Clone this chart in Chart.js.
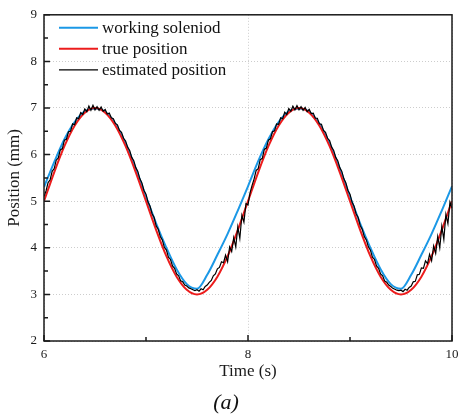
<!DOCTYPE html>
<html>
<head>
<meta charset="utf-8">
<script src="https://cdn.jsdelivr.net/npm/chart.js@4.4.1/dist/chart.umd.min.js"></script>
<style>
  html, body { margin: 0; padding: 0; background: #fff; }
  #wrap { width: 459px; height: 414px; }
</style>
</head>
<body>
<div id="wrap"><canvas id="chart" width="459" height="414"></canvas></div>
<script>
// Solenoid position tracking, 6-10 s window

// smooth references, sampled every 0.1 s from t = 6.0
const refStart = 6.0;
const refStep = 0.1;
const solenoidPos = [
  5.30, 5.84, 6.33, 6.70, 6.93, 6.99, 6.92, 6.66, 6.24, 5.70,
  5.10, 4.52, 4.00, 3.54, 3.22, 3.12, 3.42, 3.85, 4.30, 4.80,
  5.32, 5.86, 6.33, 6.70, 6.93, 6.99, 6.92, 6.66, 6.24, 5.70,
  5.10, 4.52, 4.00, 3.54, 3.22, 3.12, 3.42, 3.85, 4.30, 4.80,
  5.32
];
const truePos = [
  5.00, 5.62, 6.18, 6.62, 6.90, 7.00, 6.90, 6.62, 6.18, 5.62,
  5.00, 4.38, 3.82, 3.38, 3.10, 3.00, 3.10, 3.38, 3.82, 4.38,
  5.00, 5.62, 6.18, 6.62, 6.90, 7.00, 6.90, 6.62, 6.18, 5.62,
  5.00, 4.38, 3.82, 3.38, 3.10, 3.00, 3.10, 3.38, 3.82, 4.38,
  5.00
];

// estimator output, sampled every 0.02 s from t = 6.0
const estStart = 6.0;
const estStep = 0.02;
const estimatedPos = [
  5.10, 5.22, 5.40, 5.46, 5.64, 5.70, 5.88, 5.93, 6.10, 6.13,
  6.31, 6.33, 6.49, 6.50, 6.66, 6.64, 6.79, 6.77, 6.90, 6.86,
  6.98, 6.92, 7.04, 6.95, 7.06, 6.96, 7.03, 6.95, 7.02, 6.93,
  6.97, 6.87, 6.89, 6.79, 6.77, 6.67, 6.64, 6.52, 6.48, 6.35,
  6.29, 6.16, 6.09, 5.94, 5.87, 5.72, 5.64, 5.48, 5.39, 5.23,
  5.15, 4.98, 4.89, 4.73, 4.65, 4.47, 4.40, 4.24, 4.17, 4.01,
  3.95, 3.80, 3.75, 3.61, 3.56, 3.44, 3.40, 3.29, 3.27, 3.20,
  3.18, 3.14, 3.12, 3.10, 3.08, 3.10, 3.07, 3.12, 3.10, 3.17,
  3.20, 3.26, 3.30, 3.40, 3.44, 3.55, 3.58, 3.70, 3.68, 3.84,
  3.70, 4.02, 3.92, 4.22, 4.02, 4.45, 4.20, 4.70, 4.55, 4.95,
  4.92, 5.18, 5.34, 5.48, 5.66, 5.70, 5.89, 5.92, 6.11, 6.14,
  6.31, 6.34, 6.49, 6.51, 6.66, 6.65, 6.79, 6.77, 6.91, 6.86,
  6.99, 6.93, 7.04, 6.96, 7.05, 6.96, 7.03, 6.95, 7.01, 6.92,
  6.97, 6.88, 6.89, 6.78, 6.78, 6.66, 6.65, 6.52, 6.48, 6.35,
  6.30, 6.16, 6.09, 5.94, 5.87, 5.72, 5.64, 5.48, 5.39, 5.23,
  5.15, 4.98, 4.89, 4.73, 4.65, 4.48, 4.40, 4.24, 4.17, 4.02,
  3.95, 3.80, 3.75, 3.61, 3.56, 3.44, 3.40, 3.29, 3.26, 3.20,
  3.17, 3.13, 3.11, 3.09, 3.08, 3.09, 3.06, 3.11, 3.09, 3.15,
  3.18, 3.27, 3.28, 3.42, 3.43, 3.57, 3.56, 3.72, 3.66, 3.86,
  3.72, 4.04, 3.88, 4.24, 4.00, 4.46, 4.18, 4.72, 4.52, 4.98,
  4.85
];

const seriesNames = ['working soleniod', 'true position', 'estimated position'];
const xMajorTicks = [6, 8, 10];
const xMinorTicks = [7, 9];
const yMajorTicks = [2, 3, 4, 5, 6, 7, 8, 9];
const yMinorTicks = [2.5, 3.5, 4.5, 5.5, 6.5, 7.5, 8.5];

const SERIF = "'Liberation Serif', 'Times New Roman', serif";
const INK = '#1a1a1a';

const toPoints = (values, t0, dt) =>
  values.map((v, i) => ({ x: +(t0 + i * dt).toFixed(3), y: v }));

// box around the plot with inward ticks on bottom and left
const frameTicks = {
  id: 'frameTicks',
  afterDatasetsDraw(chart) {
    const { ctx, chartArea: a, scales: { x, y } } = chart;
    ctx.save();
    ctx.strokeStyle = INK;
    ctx.lineWidth = 1.5;
    ctx.strokeRect(a.left, a.top, a.right - a.left, a.bottom - a.top);
    ctx.beginPath();
    const xTick = (v, len) => {
      const px = x.getPixelForValue(v);
      ctx.moveTo(px, a.bottom);
      ctx.lineTo(px, a.bottom - len);
    };
    const yTick = (v, len) => {
      const py = y.getPixelForValue(v);
      ctx.moveTo(a.left, py);
      ctx.lineTo(a.left + len, py);
    };
    xMajorTicks.forEach((v) => xTick(v, 6));
    xMinorTicks.forEach((v) => xTick(v, 4));
    yMajorTicks.forEach((v) => yTick(v, 6));
    yMinorTicks.forEach((v) => yTick(v, 4));
    ctx.stroke();
    ctx.restore();
  }
};

// legend sits inside the top-left corner of the plot
const innerLegend = {
  id: 'innerLegend',
  afterDraw(chart) {
    const { ctx, chartArea: a } = chart;
    ctx.save();
    ctx.font = `17px ${SERIF}`;
    ctx.textBaseline = 'middle';
    ctx.textAlign = 'left';
    chart.data.datasets.forEach((ds, i) => {
      const yy = a.top + 13 + i * 21;
      ctx.strokeStyle = ds.borderColor;
      ctx.lineWidth = i === 2 ? 1.3 : 2;
      ctx.beginPath();
      ctx.moveTo(a.left + 15, yy);
      ctx.lineTo(a.left + 54, yy);
      ctx.stroke();
      ctx.fillStyle = '#111';
      ctx.fillText(ds.label, a.left + 58, yy + 1);
    });
    ctx.restore();
  }
};

new Chart(document.getElementById('chart'), {
  type: 'line',
  data: {
    datasets: [
      {
        label: seriesNames[0],
        data: toPoints(solenoidPos, refStart, refStep),
        borderColor: '#1b98e6',
        borderWidth: 2,
        pointRadius: 0,
        cubicInterpolationMode: 'monotone',
        order: 3
      },
      {
        label: seriesNames[1],
        data: toPoints(truePos, refStart, refStep),
        borderColor: '#ec1c1c',
        borderWidth: 2,
        pointRadius: 0,
        cubicInterpolationMode: 'monotone',
        order: 2
      },
      {
        label: seriesNames[2],
        data: toPoints(estimatedPos, estStart, estStep),
        borderColor: '#000000',
        borderWidth: 1.2,
        pointRadius: 0,
        tension: 0,
        order: 1
      }
    ]
  },
  options: {
    responsive: false,
    animation: false,
    devicePixelRatio: 1,
    layout: { padding: { top: 13, right: 7, left: 0, bottom: 0 } },
    plugins: {
      legend: { display: false },
      tooltip: { enabled: false },
      title: {
        display: true,
        text: '(a)',
        position: 'bottom',
        color: '#111',
        font: { family: SERIF, size: 22, style: 'italic', weight: 'normal', lineHeight: 1 },
        padding: 0
      }
    },
    scales: {
      x: {
        type: 'linear',
        min: 6,
        max: 10,
        afterFit: (scale) => {
          scale.height = 51;
          // end labels may hang past the frame
          scale.paddingLeft = 0;
          scale.paddingRight = 0;
        },
        ticks: {
          stepSize: 2,
          autoSkip: false,
          maxRotation: 0,
          padding: 6,
          color: INK,
          font: { family: SERIF, size: 13 }
        },
        grid: { color: '#cdcdcd', lineWidth: 1, drawTicks: false },
        border: { display: false, dash: [1, 2] },
        title: {
          display: true,
          text: 'Time (s)',
          color: INK,
          font: { family: SERIF, size: 17 },
          padding: { top: 0, bottom: 10 }
        }
      },
      y: {
        min: 2,
        max: 9,
        afterFit: (scale) => { scale.width = 44; },
        ticks: {
          stepSize: 1,
          padding: 7,
          color: INK,
          font: { family: SERIF, size: 13 }
        },
        grid: { color: '#cdcdcd', lineWidth: 1, drawTicks: false },
        border: { display: false, dash: [1, 2] },
        title: {
          display: true,
          text: 'Position (mm)',
          color: INK,
          font: { family: SERIF, size: 17 },
          padding: { top: 4, bottom: 0 }
        }
      }
    }
  },
  plugins: [frameTicks, innerLegend]
});
</script>
</body>
</html>
